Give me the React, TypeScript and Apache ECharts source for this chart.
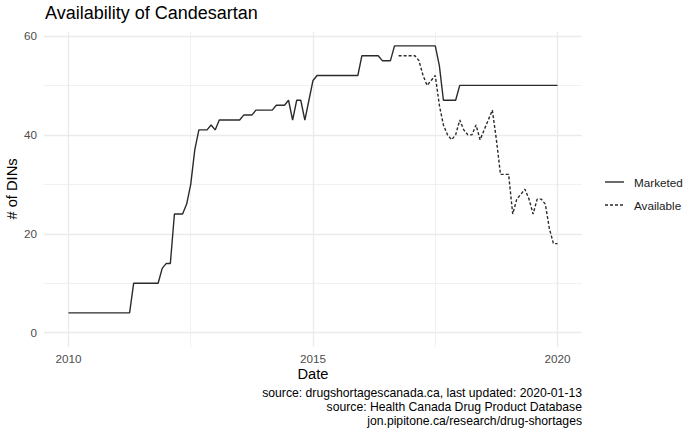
import React, { useEffect, useRef } from "react";
import * as echarts from "echarts";

const marketedDates = [
  "2010-01", "2011-04", "2011-05", "2011-11", "2011-12", "2012-01", "2012-02", "2012-03",
  "2012-05", "2012-06", "2012-07", "2012-08", "2012-09", "2012-11", "2012-12", "2013-01",
  "2013-02", "2013-07", "2013-08", "2013-10", "2013-11", "2014-03", "2014-04", "2014-06",
  "2014-07", "2014-08", "2014-09", "2014-10", "2014-11", "2014-12", "2015-01", "2015-02",
  "2015-12", "2016-01", "2016-05", "2016-06", "2016-08", "2016-09", "2017-07", "2017-08",
  "2017-09", "2017-12", "2018-01", "2020-01",
];
const marketedValues = [
  4, 4, 10, 10, 13, 14, 14, 24,
  24, 26, 30, 37, 41, 41, 42, 41,
  43, 43, 44, 44, 45, 45, 46, 46,
  47, 43, 47, 47, 43, 47, 51, 52,
  52, 56, 56, 55, 55, 58, 58, 54,
  47, 47, 50, 50,
];

const availableDates = [
  "2016-10", "2017-02", "2017-03", "2017-04", "2017-05", "2017-06", "2017-07", "2017-08",
  "2017-09", "2017-10", "2017-11", "2017-12", "2018-01", "2018-02", "2018-03", "2018-04",
  "2018-05", "2018-06", "2018-07", "2018-08", "2018-09", "2018-10", "2018-11", "2018-12",
  "2019-01", "2019-02", "2019-03", "2019-04", "2019-05", "2019-06", "2019-07", "2019-08",
  "2019-09", "2019-10", "2019-11", "2019-12", "2020-01",
];
const availableValues = [
  56, 56, 55, 52, 50, 51, 52, 46,
  42, 40, 39, 40, 43, 41, 40, 40,
  42, 39, 41, 43, 45, 39, 32, 32,
  32, 24, 27, 28, 29, 27, 24, 27,
  27, 26, 21, 18, 18,
];

const seriesNames = ["Marketed", "Available"];
const xTickLabels = [2010, 2015, 2020];
const yTickLabels = [0, 20, 40, 60];
const xMinorGrid = [2012.5, 2017.5];
const yMinorGrid = [10, 30, 50];
const captionLines = [
  "source: drugshortagescanada.ca, last updated: 2020-01-13",
  "source: Health Canada Drug Product Database",
  "jon.pipitone.ca/research/drug-shortages",
];
const titleText = "Availability of Candesartan";
const xTitle = "Date";
const yTitle = "# of DINs";

const FONT = "'Liberation Sans', Arial, Helvetica, sans-serif";
const LINE_COLOR = "#2B2B2B";
const LINE_WIDTH = 1.4;
const DASH = [3, 2];

function toYear(d: string): number {
  const [y, m] = d.split("-").map(Number);
  return y + (m - 1) / 12;
}

export default function App() {
  const ref = useRef<HTMLDivElement>(null);

  useEffect(() => {
    if (!ref.current) return;
    const chart = echarts.init(ref.current, undefined, { renderer: "svg" });

    const majorLine = { color: "#EBEBEB", width: 1.4, type: "solid" };
    const minorLine = { color: "#EBEBEB", width: 0.7, type: "solid" };

    const gridMarks = [
      ...xTickLabels.map((v) => ({ xAxis: v, lineStyle: majorLine })),
      ...xMinorGrid.map((v) => ({ xAxis: v, lineStyle: minorLine })),
      ...yTickLabels.map((v) => ({ yAxis: v, lineStyle: majorLine })),
      ...yMinorGrid.map((v) => ({ yAxis: v, lineStyle: minorLine })),
    ];

    const legendGraphics: any[] = [];
    seriesNames.forEach((name, i) => {
      const y = 182 + i * 23;
      legendGraphics.push({
        type: "line",
        shape: { x1: 605, y1: y, x2: 624, y2: y },
        style: {
          stroke: LINE_COLOR,
          lineWidth: LINE_WIDTH,
          lineDash: i === 1 ? DASH : null,
        },
      });
      legendGraphics.push({
        type: "text",
        x: 634,
        y,
        style: {
          text: name,
          fontSize: 11.7,
          fontFamily: FONT,
          fill: "#1A1A1A",
          textAlign: "left",
          textVerticalAlign: "middle",
        },
      });
    });

    chart.setOption({
      animation: false,
      grid: { left: 44, right: 118, top: 31.5, bottom: 85 },
      xAxis: {
        type: "value",
        min: 2009.5,
        max: 2020.5,
        axisLine: { show: false },
        axisTick: { show: false },
        splitLine: { show: false },
        axisLabel: {
          customValues: xTickLabels,
          formatter: (v: number) => String(Math.round(v)),
          color: "#4D4D4D",
          fontSize: 11.7,
          fontFamily: FONT,
          margin: 5,
        },
      },
      yAxis: {
        type: "value",
        min: -2.9,
        max: 60.9,
        axisLine: { show: false },
        axisTick: { show: false },
        splitLine: { show: false },
        axisLabel: {
          customValues: yTickLabels,
          formatter: (v: number) => String(Math.round(v)),
          color: "#4D4D4D",
          fontSize: 11.7,
          fontFamily: FONT,
          margin: 7,
        },
      },
      series: [
        {
          name: "grid",
          type: "line",
          data: [],
          z: 1,
          silent: true,
          markLine: {
            silent: true,
            z: 1,
            symbol: "none",
            label: { show: false },
            animation: false,
            data: gridMarks,
          },
        },
        {
          name: seriesNames[0],
          type: "line",
          z: 5,
          symbol: "none",
          showSymbol: false,
          data: marketedDates.map((d, i) => [toYear(d), marketedValues[i]]),
          lineStyle: { color: LINE_COLOR, width: LINE_WIDTH, type: "solid" },
          itemStyle: { color: LINE_COLOR },
        },
        {
          name: seriesNames[1],
          type: "line",
          z: 5,
          symbol: "none",
          showSymbol: false,
          data: availableDates.map((d, i) => [toYear(d), availableValues[i]]),
          lineStyle: { color: LINE_COLOR, width: LINE_WIDTH, type: DASH },
          itemStyle: { color: LINE_COLOR },
        },
      ],
      graphic: [
        {
          type: "text",
          left: 45,
          top: 4,
          style: { text: titleText, fontSize: 18, fontFamily: FONT, fill: "#000" },
        },
        {
          type: "text",
          x: 313,
          y: 374,
          style: {
            text: xTitle,
            fontSize: 14.67,
            fontFamily: FONT,
            fill: "#000",
            textAlign: "center",
            textVerticalAlign: "middle",
          },
        },
        {
          type: "text",
          x: 12,
          y: 189,
          rotation: Math.PI / 2,
          style: {
            text: yTitle,
            fontSize: 14.67,
            fontFamily: FONT,
            fill: "#000",
            textAlign: "center",
            textVerticalAlign: "middle",
          },
        },
        ...legendGraphics,
        ...captionLines.map((t, i) => ({
          type: "text",
          x: 582,
          y: 392.5 + i * 14,
          style: {
            text: t,
            fontSize: 12.2,
            fontFamily: FONT,
            fill: "#000",
            textAlign: "right",
            textVerticalAlign: "middle",
          },
        })),
      ],
    });

    return () => chart.dispose();
  }, []);

  return (
    <div
      ref={ref}
      style={{ position: "absolute", left: 0, top: 0, width: 700, height: 432, background: "#fff" }}
    />
  );
}
